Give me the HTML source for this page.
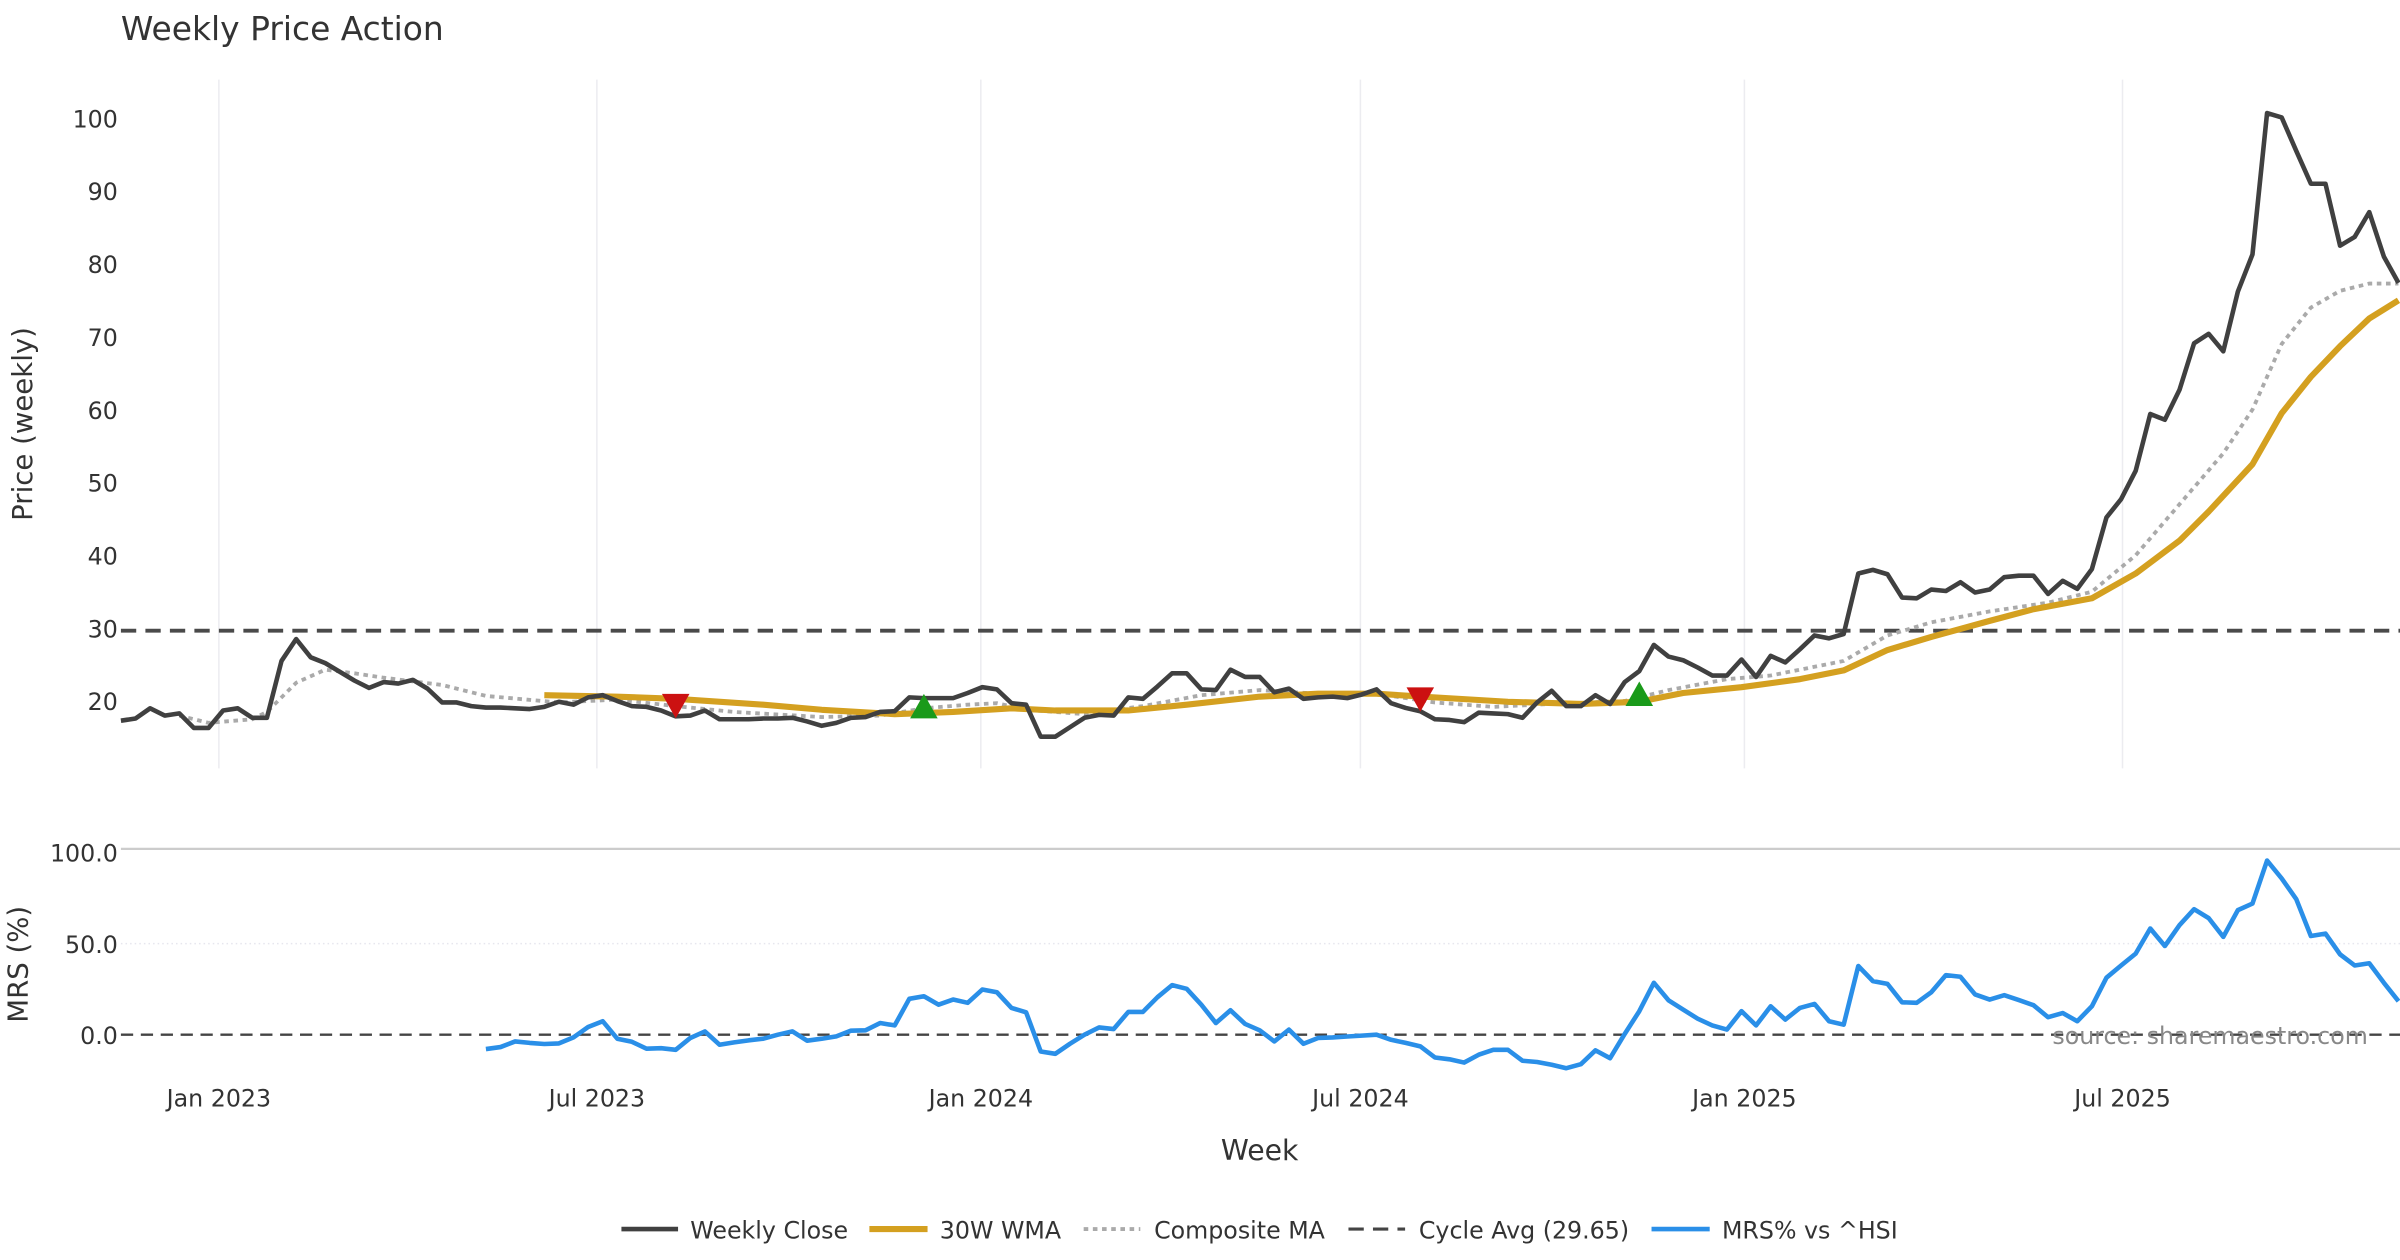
<!DOCTYPE html>
<html><head><meta charset="utf-8"><style>
html,body{margin:0;padding:0;background:#fff;}
svg{display:block;font-family:"DejaVu Sans","Liberation Sans",sans-serif;}
</style></head><body>
<svg id="chart" width="2400" height="1260" viewBox="0 0 1568 823.2" xmlns="http://www.w3.org/2000/svg">
<rect width="1568" height="823.2" fill="#fff"/>
<text x="79" y="26" font-size="21.5" fill="#333">Weekly Price Action</text>
<g id="grid"></g>
<g id="series"></g>
<g id="axes" font-size="15.5" fill="#333"></g>
<text transform="translate(21,277) rotate(-90)" text-anchor="middle" font-size="18" fill="#333">Price (weekly)</text>
<text transform="translate(18,630) rotate(-90)" text-anchor="middle" font-size="18" fill="#333">MRS (%)</text>
<text x="823" y="758" text-anchor="middle" font-size="18.5" fill="#333">Week</text>
<text x="1547" y="682" text-anchor="end" font-size="15.5" fill="#888">source: sharemaestro.com</text>
<g id="legend" font-size="15.5" fill="#333">
 <g><line x1="406" y1="803" x2="443" y2="803" stroke="#404040" stroke-width="3"/><text x="451" y="809">Weekly Close</text></g>
 <g><line x1="568" y1="803" x2="606" y2="803" stroke="#d4a020" stroke-width="4"/><text x="614" y="809">30W WMA</text></g>
 <g><line x1="708" y1="803" x2="745" y2="803" stroke="#aaa" stroke-width="2.5" stroke-dasharray="3,3"/><text x="754" y="809">Composite MA</text></g>
 <g><line x1="881" y1="803" x2="918" y2="803" stroke="#444" stroke-width="2" stroke-dasharray="10,6"/><text x="927" y="809">Cycle Avg (29.65)</text></g>
 <g><line x1="1079" y1="803" x2="1117" y2="803" stroke="#2a8fe8" stroke-width="3"/><text x="1125" y="809">MRS% vs ^HSI</text></g>
</g>
</svg>
<script>
const closeVals=[17.3,17.6,19,18,18.3,16.3,16.3,18.7,19,17.7,17.7,25.5,28.5,26,25.2,24,22.8,21.8,22.6,22.4,22.9,21.7,19.8,19.8,19.3,19.1,19.1,19,18.9,19.2,19.9,19.5,20.5,20.8,20,19.3,19.2,18.7,17.9,18,18.7,17.5,17.5,17.5,17.6,17.6,17.7,17.2,16.6,17.0,17.7,17.8,18.5,18.6,
20.5,20.4,20.4,20.4,21.1,21.9,21.6,19.7,19.5,15.1,15.1,16.4,17.7,18.1,18.0,20.5,20.3,22.0,23.8,23.8,21.6,21.5,24.3,23.3,23.3,21.2,21.7,20.3,20.5,20.6,20.4,20.9,21.6,19.7,19.05,18.6,17.5,17.4,17.1,18.4,18.3,18.2,17.7,19.8,21.4,19.3,19.3,20.8,19.6,22.6,24.1,27.7,26.1,25.6,24.6,
23.5,23.5,25.7,23.3,26.2,25.3,27.1,29.0,28.6,29.2,37.5,38.0,37.4,34.2,34.1,35.3,35.1,36.3,34.9,35.3,37.0,37.2,37.2,34.7,36.5,35.4,38.1,45.2,47.7,51.6,59.4,58.6,62.7,69.1,70.4,68.0,76.2,81.3,100.7,100.1,95.5,91.0,91.0,82.5,83.7,87.1,81.0,77.4];
const wmaWeeks=[29,34,38,44,48,53,57,61,64,69,73,78,82,86,90,95,100,104,107,111,115,118,121,124,128,131,135,138,141,143,146,148,150,152,154,156];
const wmaVals=[20.8,20.6,20.3,19.5,18.8,18.2,18.5,19.0,18.7,18.7,19.5,20.6,21.0,21.0,20.5,19.9,19.6,19.9,21.1,21.9,23,24.2,27,28.8,31,32.6,34.1,37.5,42,46,52.5,59.5,64.5,68.7,72.5,75];
const compWeeks=[4,6,9,10,12,14,16,18,22,25,30,34,38,42,48,52,55,58,60,62,66,70,74,78,82,86,90,94,98,103,106,110,113,118,121,124,128,132,135,138,141,144,146,148,150,152,154,156];
const compVals=[18,17,17.5,18.5,22.5,24.3,23.8,23.2,22.2,20.7,19.8,20.2,19.3,18.5,17.8,18,19,19.5,19.7,18.8,18.2,19.3,20.8,21.5,21,21,19.8,19.2,19.6,20,21.5,23,23.5,25.5,29,30.8,32.3,33.5,35,40,47,54,60,69,74,76.3,77.3,77.3];
const cycleAvg=29.65;
const mrsStart=25;
const mrsVals=[-7.9,-6.8,-3.7,-4.5,-5.1,-4.8,-1.5,4.2,7.4,-2.2,-3.9,-7.7,-7.4,-8.3,-1.8,1.8,-5.5,-4.2,-3.1,-2.2,0,1.8,-3.3,-2.2,-0.9,2.2,2.4,6.4,5.1,19.7,21.1,16.5,19.3,17.5,24.8,23.3,14.7,12.3,-9.2,-10.5,-5,0,4,3.1,12.5,12.5,20.6,27.2,25.2,16.5,6.4,13.4,5.9,2.4,-3.7,2.8,-5,-1.8,-1.5,-1,-0.5,0,-2.8,-4.5,-6.4,-12.5,-13.5,-15.3,-11,-8.3,-8.3,-14.3,-15,-16.5,-18.4,-16.2,-8.6,-12.9,0.4,12.9,28.5,18.9,13.8,8.8,5.1,2.8,12.9,5.1,15.6,8.3,14.7,16.9,7.4,5.5,37.7,29.4,27.9,17.8,17.5,23.3,32.7,31.8,22.1,19.3,21.7,19,16.2,9.6,11.9,7.4,15.6,31.3,38,44.5,58.3,48.7,60.1,68.9,64,53.7,68.4,72,95.6,85.8,74.4,54.2,55.5,44.1,38,39.2,28.5,18.4];
const sellWeeks=[38,89];
const sellVals=[19.3,20.2];
const buyWeeks=[55,104];
const buyVals=[19.3,21.0];
const xTickLabels=["Jan 2023","Jul 2023","Jan 2024","Jul 2024","Jan 2025","Jul 2025"];
const xTickWeeks=[6.71,32.6,58.9,84.9,111.2,137.1];
const priceTicks=[20,30,40,50,60,70,80,90,100];
const mrsTicks=[0,50,100];

const NS="http://www.w3.org/2000/svg";
const X=i=>79+i*(1567-79)/156;
const Y=v=>458-(v-20)*4.76;
const YM=v=>676-v*1.19;
function mk(tag,attrs,parent){const e=document.createElementNS(NS,tag);for(const k in attrs)e.setAttribute(k,attrs[k]);parent.appendChild(e);return e;}
const grid=document.getElementById('grid'),ser=document.getElementById('series'),ax=document.getElementById('axes');

xTickWeeks.forEach((w,k)=>{
  const l=mk('line',{x1:X(w),x2:X(w),y1:52,y2:502,stroke:'#ececf0','stroke-width':1},grid);
  
  
  const t=mk('text',{x:X(w),y:723,'text-anchor':'middle'},ax);t.textContent=xTickLabels[k];
  
  
});
priceTicks.forEach(v=>{
  const t=mk('text',{x:77,y:Y(v)+6,'text-anchor':'end'},ax);t.textContent=v;
  
  
});
mrsTicks.forEach(v=>{
  const t=mk('text',{x:77,y:YM(v)+6,'text-anchor':'end'},ax);t.textContent=v.toFixed(1);
  
  
});
let e=mk('line',{x1:79,x2:1568,y1:YM(102),y2:YM(102),stroke:'#cccccc','stroke-width':1.5},grid);


e=mk('line',{x1:79,x2:1568,y1:YM(50),y2:YM(50),stroke:'#e6e6ee','stroke-width':1,'stroke-dasharray':'1,2'},grid);


e=mk('line',{x1:79,x2:1568,y1:YM(0),y2:YM(0),stroke:'#444','stroke-width':1.5,'stroke-dasharray':'8,5'},ser);



function path(ws,vs,yf){return ws.map((w,k)=>(k?'L':'M')+X(w).toFixed(2)+','+yf(vs[k]).toFixed(2)).join('');}
e=mk('line',{x1:79,x2:1568,y1:Y(cycleAvg),y2:Y(cycleAvg),stroke:'#4a4a4a','stroke-width':2.5,'stroke-dasharray':'10,6'},ser);


e=mk('path',{d:path(compWeeks,compVals,Y),fill:'none',stroke:'#aaaaaa','stroke-width':2.5,'stroke-dasharray':'3,3'},ser);


e=mk('path',{d:path(wmaWeeks,wmaVals,Y),fill:'none',stroke:'#d4a020','stroke-width':4,'stroke-linejoin':'round'},ser);


e=mk('path',{d:path(closeVals.map((v,i)=>i),closeVals,Y),fill:'none',stroke:'#404040','stroke-width':3,'stroke-linejoin':'round'},ser);


sellWeeks.forEach((w,k)=>{const x=X(w),y=Y(sellVals[k]);
  const p=mk('path',{d:`M${x-9},${y-8}L${x+9},${y-8}L${x},${y+8}Z`,fill:'#cc1111'},ser);
  
  });
buyWeeks.forEach((w,k)=>{const x=X(w),y=Y(buyVals[k]);
  const p=mk('path',{d:`M${x-9},${y+8}L${x+9},${y+8}L${x},${y-8}Z`,fill:'#1a9a1a'},ser);
  
  });
e=mk('path',{d:path(mrsVals.map((v,i)=>i+mrsStart),mrsVals,YM),fill:'none',stroke:'#2a8fe8','stroke-width':3,'stroke-linejoin':'round'},ser);


</script>
</body></html>
